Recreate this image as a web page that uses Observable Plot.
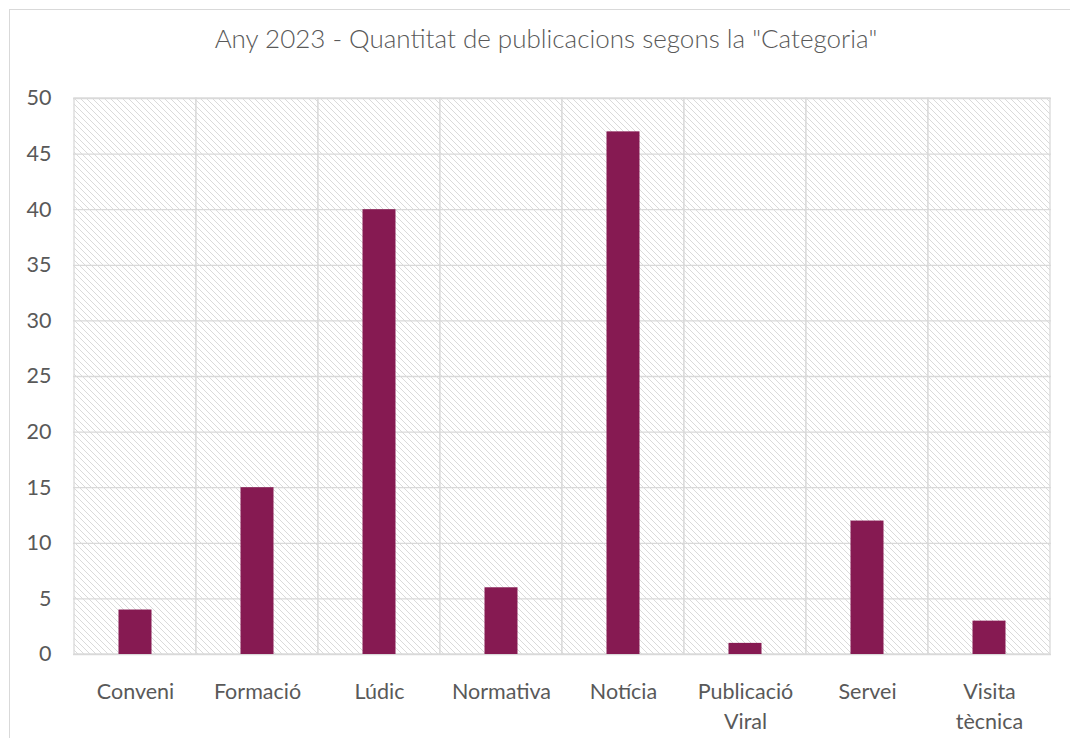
<!DOCTYPE html>
<html>
<head>
<meta charset="utf-8">
<script src="https://cdn.jsdelivr.net/npm/d3@7"></script>
<script src="https://cdn.jsdelivr.net/npm/@observablehq/plot@0.6"></script>
<style>
  html, body { margin: 0; padding: 0; background: #fff; }
  #wrap { position: relative; width: 1070px; height: 738px; overflow: hidden; font-family: Lato, "Open Sans", sans-serif; }
  #border { position: absolute; left: 9px; top: 9px; width: 1100px; height: 800px; border: 1px solid #d9d9d9; box-sizing: border-box; }
  #title { position: absolute; left: 0; top: 25px; width: 1092px; text-align: center; font-size: 26px; font-weight: 300; line-height: 26px; color: #595959; }
  #chart { position: absolute; left: 0; top: 0; }
</style>
</head>
<body>
<div id="wrap">
  <div id="border"></div>
  <div id="title">Any 2023 - Quantitat de publicacions segons la "Categoria"</div>
  <div id="chart"></div>
</div>
<script>
const categories = ["Conveni", "Formació", "Lúdic", "Normativa", "Notícia", "Publicació Viral", "Servei", "Visita tècnica"];
const tickLabels = ["Conveni", "Formació", "Lúdic", "Normativa", "Notícia", "Publicació\nViral", "Servei", "Visita\ntècnica"];
const values = [4, 15, 40, 6, 47, 1, 12, 3];
const yTicks = [0, 5, 10, 15, 20, 25, 30, 35, 40, 45, 50];

const data = categories.map((c, i) => ({category: c, value: values[i], label: tickLabels[i]}));

const textColor = "#595959";
const gridColor = "#d9d9d9";
const barColor = "#861A52";

const svg = Plot.plot({
  width: 1070,
  height: 738,
  marginLeft: 73,
  marginRight: 19,
  marginTop: 98,
  marginBottom: 84,
  style: {fontFamily: "Lato, 'Open Sans', sans-serif", background: "transparent", color: textColor},
  x: {domain: categories, padding: 0, axis: null},
  y: {domain: [0, 50], ticks: yTicks},
  marks: [
    Plot.barY(categories, {x: d => d, y1: 0, y2: 50, fill: "url(#hatch)", stroke: gridColor, strokeWidth: 1.3}),
    Plot.ruleY(yTicks, {stroke: gridColor, strokeWidth: 1.3}),
    Plot.barY(data, {x: "category", y: "value", fill: barColor, insetLeft: 44.5, insetRight: 44.5}),
    Plot.axisY({ticks: yTicks, tickSize: 0, tickPadding: 22, fontSize: 21.5, fill: textColor, label: null}),
    Plot.text(data, {x: "category", y: 0, text: "label", dy: 23, lineAnchor: "top", lineHeight: 1.4, fontSize: 21.5, fill: textColor})
  ]
});

const defs = d3.select(svg).insert("defs", ":first-child");
const pat = defs.append("pattern")
  .attr("id", "hatch")
  .attr("patternUnits", "userSpaceOnUse")
  .attr("width", 6)
  .attr("height", 6);
pat.append("rect").attr("width", 6).attr("height", 6).attr("fill", "#ffffff");
pat.append("path")
  .attr("d", "M-1,-1 L7,7 M-1,5 L1,7 M5,-1 L7,1")
  .attr("stroke", "#dadada")
  .attr("stroke-width", 1);

document.getElementById("chart").appendChild(svg);
</script>
</body>
</html>
